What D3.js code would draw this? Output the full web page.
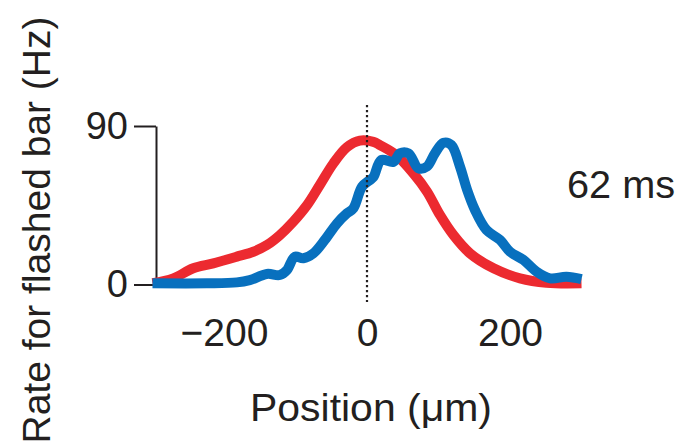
<!DOCTYPE html>
<html>
<head>
<meta charset="utf-8">
<script src="https://cdn.jsdelivr.net/npm/d3@7"></script>
<style>
  body { margin: 0; background: #fff; }
  text { font-family: "Liberation Sans", Arial, Helvetica, sans-serif; fill: #231f20; }
</style>
</head>
<body>
<script>
// red = flashed bar response (model), blue = measured
const redPos = [-300, -271, -243, -215, -182, -159, -140, -122, -103, -84, -66, -47, -28, -10, 9, 18, 41, 65, 84, 102, 121, 144, 177, 214, 251, 300];
const redRate = [0.8, 3.5, 9.2, 12, 15.8, 18.6, 22.4, 28, 35.7, 45, 56.5, 68.8, 78, 81.7, 81, 79.2, 73.5, 63, 52.7, 39.5, 28, 17.7, 9.2, 3.5, 1, 0.7];

const bluePos = [-300, -224, -182, -164, -140, -122, -112, -101, -89, -75, -59, -42, -28, -19, -7, 4, 9, 20, 37, 46, 58, 72, 84, 95, 107, 118, 130, 140, 151, 167, 186, 200, 219, 237, 256, 279, 300];
const blueRate = [0.7, 0.7, 1.2, 2.5, 6, 5.4, 8.2, 15.8, 14.9, 17.7, 25.3, 34.7, 40.4, 43.3, 55.5, 59.3, 61, 70.7, 69.7, 74.5, 74.5, 66, 67, 74.5, 80.5, 79.2, 67, 53.7, 42.3, 31, 25.3, 18.6, 13.9, 7.3, 3.5, 4.4, 3];

const xTicks = [-200, 0, 200];
const yTicks = [0, 90];
const label = "62 ms";

const W = 682, H = 448;
const svg = d3.select("body").append("svg")
    .attr("width", W)
    .attr("height", H);

const x = d3.scaleLinear().domain([-300, 300]).range([152.5, 581.5]);
const y = d3.scaleLinear().domain([0, 90]).range([284.5, 126]);

// y axis
const yAxis = d3.axisLeft(y)
    .tickValues(yTicks)
    .tickSize(22)
    .tickPadding(6)
    .tickSizeOuter(0);

const ya = svg.append("g")
    .attr("transform", "translate(156,0)")
    .call(yAxis);
ya.select(".domain").attr("stroke", "#231f20").attr("stroke-width", 2);
ya.selectAll(".tick line").attr("stroke", "#231f20").attr("stroke-width", 2);
ya.selectAll(".tick text")
    .attr("font-size", "38px")
    .attr("fill", "#231f20")
    .style("font-family", "Liberation Sans, Arial, sans-serif");

// x tick labels only, no axis line
const xa = svg.append("g")
    .attr("transform", "translate(0,346)")
    .call(d3.axisBottom(x).tickValues(xTicks).tickSize(0).tickPadding(0)
        .tickFormat(d => d < 0 ? "\u2212" + Math.abs(d) : d));
xa.select(".domain").remove();
xa.selectAll(".tick text")
    .attr("dy", 0)
    .attr("font-size", "39px")
    .attr("fill", "#231f20")
    .style("font-family", "Liberation Sans, Arial, sans-serif");

const line = d3.line()
    .x(d => x(d[0]))
    .y(d => y(d[1]))
    .curve(d3.curveCatmullRom);

svg.append("path")
    .datum(d3.zip(redPos, redRate))
    .attr("d", line)
    .attr("fill", "none")
    .attr("stroke", "#ec2a30")
    .attr("stroke-width", 10)
    .attr("stroke-linejoin", "round");

svg.append("path")
    .datum(d3.zip(bluePos, blueRate))
    .attr("d", line)
    .attr("fill", "none")
    .attr("stroke", "#0870be")
    .attr("stroke-width", 10)
    .attr("stroke-linejoin", "round");

// dotted line at 0
svg.append("line")
    .attr("x1", x(0)).attr("x2", x(0))
    .attr("y1", 105).attr("y2", 302)
    .attr("stroke", "#231f20")
    .attr("stroke-width", 2.2)
    .attr("stroke-dasharray", "2.2,2.8");

svg.append("text")
    .attr("x", 567)
    .attr("y", 198)
    .attr("font-size", "38px")
    .attr("textLength", 108)
    .attr("lengthAdjust", "spacingAndGlyphs")
    .text(label);

svg.append("text")
    .attr("x", 250)
    .attr("y", 421)
    .attr("font-size", "38px")
    .attr("textLength", 242)
    .attr("lengthAdjust", "spacingAndGlyphs")
    .text("Position (\u03bcm)");

svg.append("text")
    .attr("transform", "rotate(-90)")
    .attr("x", -230)
    .attr("y", 50)
    .attr("text-anchor", "middle")
    .attr("font-size", "39px")
    .text("Rate for flashed bar (Hz)");
</script>
</body>
</html>
